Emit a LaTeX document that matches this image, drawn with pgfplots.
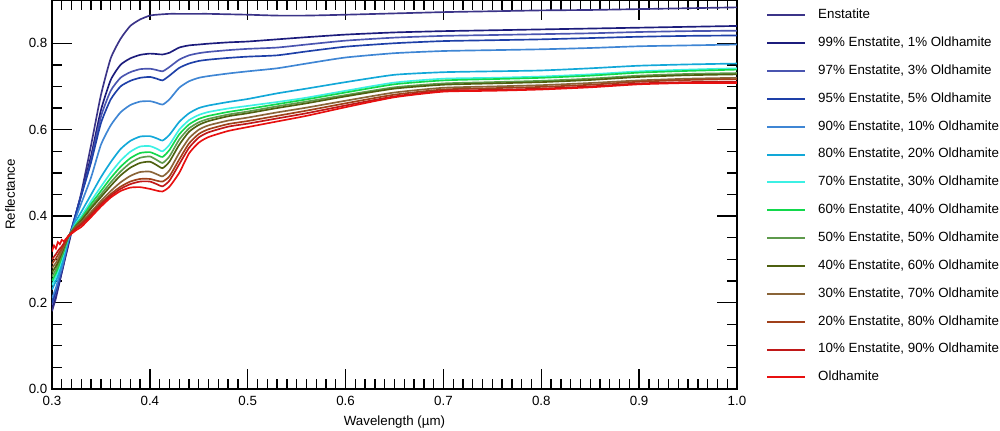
\documentclass[border=0pt]{standalone}
\usepackage{pgfplots}
\pgfplotsset{compat=1.18}
\usepackage{pgfplotstable}
\usepackage{fontspec}
\setmainfont{Liberation Sans}

% columns: wavelength, then Enstatite -> Oldhamite
\pgfplotstableread{
x     e100  e99   e97   e95   e90   e80   e70   e60   e50   e40   e30   e20   e10   e0
0.300 0.180 0.190 0.195 0.200 0.210 0.230 0.240 0.250 0.260 0.270 0.280 0.290 0.300 0.318
0.302 0.195 0.204 0.209 0.214 0.222 0.240 0.250 0.259 0.268 0.277 0.286 0.296 0.306 0.332
0.304 0.210 0.218 0.223 0.228 0.234 0.250 0.260 0.268 0.276 0.284 0.292 0.302 0.312 0.325
0.306 0.230 0.234 0.239 0.244 0.250 0.262 0.272 0.279 0.286 0.293 0.300 0.310 0.319 0.340
0.308 0.250 0.252 0.257 0.262 0.266 0.276 0.286 0.292 0.298 0.304 0.310 0.318 0.325 0.335
0.310 0.270 0.270 0.275 0.280 0.280 0.290 0.300 0.305 0.310 0.315 0.320 0.325 0.330 0.345
0.312 0.289 0.290 0.294 0.299 0.299 0.306 0.314 0.318 0.322 0.326 0.330 0.333 0.337 0.342
0.317 0.335 0.340 0.345 0.348 0.345 0.350 0.352 0.353 0.354 0.354 0.354 0.354 0.355 0.354
0.325 0.410 0.410 0.410 0.410 0.400 0.390 0.385 0.382 0.380 0.378 0.376 0.374 0.372 0.368
0.330 0.455 0.450 0.450 0.448 0.430 0.410 0.400 0.395 0.392 0.390 0.386 0.383 0.380 0.375
0.340 0.565 0.540 0.530 0.525 0.490 0.450 0.435 0.428 0.422 0.418 0.410 0.406 0.402 0.398
0.350 0.680 0.645 0.630 0.615 0.565 0.490 0.468 0.458 0.450 0.444 0.435 0.430 0.426 0.422
0.360 0.765 0.715 0.690 0.670 0.610 0.525 0.500 0.488 0.478 0.470 0.458 0.451 0.447 0.443
0.370 0.810 0.750 0.720 0.700 0.640 0.555 0.528 0.514 0.503 0.494 0.478 0.468 0.463 0.458
0.380 0.840 0.765 0.733 0.713 0.657 0.574 0.549 0.534 0.523 0.512 0.493 0.480 0.474 0.466
0.390 0.855 0.773 0.740 0.720 0.665 0.584 0.561 0.546 0.535 0.523 0.502 0.486 0.480 0.467
0.400 0.864 0.776 0.741 0.722 0.666 0.585 0.562 0.548 0.538 0.526 0.503 0.486 0.480 0.463
0.407 0.866 0.775 0.738 0.718 0.662 0.580 0.556 0.542 0.530 0.518 0.497 0.482 0.474 0.459
0.413 0.867 0.774 0.735 0.714 0.658 0.575 0.550 0.537 0.523 0.511 0.492 0.480 0.469 0.457
0.420 0.868 0.778 0.745 0.725 0.670 0.588 0.565 0.553 0.538 0.526 0.506 0.492 0.482 0.468
0.430 0.868 0.790 0.762 0.743 0.697 0.618 0.600 0.589 0.577 0.565 0.546 0.531 0.520 0.500
0.440 0.868 0.795 0.772 0.753 0.712 0.638 0.622 0.612 0.603 0.595 0.580 0.568 0.558 0.545
0.450 0.868 0.797 0.777 0.759 0.720 0.650 0.634 0.625 0.617 0.611 0.600 0.590 0.582 0.570
0.460 0.868 0.799 0.780 0.762 0.724 0.656 0.641 0.632 0.625 0.620 0.610 0.601 0.594 0.583
0.480 0.867 0.802 0.784 0.766 0.730 0.664 0.649 0.641 0.635 0.631 0.621 0.613 0.607 0.597
0.500 0.866 0.804 0.787 0.769 0.735 0.671 0.655 0.648 0.642 0.638 0.628 0.620 0.614 0.606
0.530 0.864 0.809 0.790 0.772 0.742 0.684 0.664 0.659 0.654 0.650 0.640 0.632 0.626 0.619
0.560 0.864 0.814 0.797 0.781 0.753 0.695 0.674 0.670 0.665 0.661 0.651 0.644 0.638 0.632
0.600 0.866 0.820 0.806 0.792 0.767 0.710 0.690 0.686 0.680 0.677 0.667 0.661 0.656 0.652
0.650 0.869 0.825 0.813 0.800 0.777 0.727 0.709 0.705 0.698 0.695 0.686 0.681 0.677 0.675
0.700 0.872 0.828 0.817 0.805 0.782 0.733 0.718 0.714 0.707 0.704 0.697 0.693 0.690 0.688
0.750 0.874 0.830 0.819 0.807 0.784 0.735 0.720 0.717 0.710 0.707 0.700 0.696 0.692 0.690
0.800 0.876 0.832 0.821 0.809 0.786 0.737 0.723 0.720 0.713 0.710 0.703 0.699 0.695 0.693
0.850 0.877 0.834 0.823 0.812 0.789 0.742 0.728 0.725 0.718 0.715 0.708 0.704 0.700 0.698
0.900 0.879 0.836 0.826 0.815 0.793 0.748 0.735 0.732 0.725 0.722 0.714 0.711 0.707 0.705
0.950 0.881 0.838 0.828 0.817 0.795 0.751 0.739 0.736 0.729 0.726 0.718 0.715 0.710 0.708
1.000 0.883 0.840 0.829 0.818 0.797 0.753 0.742 0.739 0.731 0.728 0.720 0.717 0.711 0.708
}\spectra

\definecolor{cE100}{HTML}{3B3488}
\definecolor{cE99}{HTML}{1C1C7C}
\definecolor{cE97}{HTML}{4A55B0}
\definecolor{cE95}{HTML}{1E40A8}
\definecolor{cE90}{HTML}{3F86D4}
\definecolor{cE80}{HTML}{12A8D8}
\definecolor{cE70}{HTML}{3CF0E4}
\definecolor{cE60}{HTML}{12D84C}
\definecolor{cE50}{HTML}{5E9A4C}
\definecolor{cE40}{HTML}{4E6010}
\definecolor{cE30}{HTML}{8A6438}
\definecolor{cE20}{HTML}{A0401A}
\definecolor{cE10}{HTML}{C01818}
\definecolor{cE0}{HTML}{E81010}

\begin{document}
\begin{tikzpicture}
  \begin{axis}[
    scale only axis,
    width=513.75pt, height=291.75pt,
    xmin=0.3, xmax=1.0, ymin=0, ymax=0.9,
    xtick={0.3,0.4,...,1.01}, minor x tick num=9,
    ytick={0,0.2,...,0.81}, minor y tick num=3,
    major tick length=15pt, minor tick length=7.5pt,
    every tick/.style={black, line width=1pt},
    axis line style={line width=1pt},
    font=\fontsize{10}{12}\selectfont,
    tick label style={font=\fontsize{10}{12}\selectfont},
    /pgf/number format/assume math mode=true,
    xticklabel style={yshift=-2pt, /pgf/number format/.cd, fixed, fixed zerofill, precision=1},
    yticklabel style={/pgf/number format/.cd, fixed, fixed zerofill, precision=1},
    xlabel={Wavelength (µm)}, ylabel={Reflectance},
    xlabel style={yshift=-1pt}, ylabel style={yshift=3.5pt},
    every axis plot/.append style={line width=1.25pt, smooth, tension=0.35},
    legend cell align=left,
    legend image code/.code={\draw[#1, line width=1.5pt, sharp plot] (0pt,0pt) -- (28.5pt,0pt);},
    legend style={draw=none, fill=none, at={(rel axis cs:1.0423,0.977)}, anchor=north west,
      inner sep=0pt, row sep=11.9pt,
      nodes={inner sep=0pt, text height=7pt, text depth=2pt},
      font=\fontsize{10}{12}\selectfont},
    legend columns=1,
  ]
    \addplot[cE100] table[x=x, y=e100] {\spectra};
    \addlegendentry{\hspace{9pt}Enstatite}
    \addplot[cE99] table[x=x, y=e99] {\spectra};
    \addlegendentry{\hspace{9pt}99\% Enstatite, 1\% Oldhamite}
    \addplot[cE97] table[x=x, y=e97] {\spectra};
    \addlegendentry{\hspace{9pt}97\% Enstatite, 3\% Oldhamite}
    \addplot[cE95] table[x=x, y=e95] {\spectra};
    \addlegendentry{\hspace{9pt}95\% Enstatite, 5\% Oldhamite}
    \addplot[cE90] table[x=x, y=e90] {\spectra};
    \addlegendentry{\hspace{9pt}90\% Enstatite, 10\% Oldhamite}
    \addplot[cE80] table[x=x, y=e80] {\spectra};
    \addlegendentry{\hspace{9pt}80\% Enstatite, 20\% Oldhamite}
    \addplot[cE70] table[x=x, y=e70] {\spectra};
    \addlegendentry{\hspace{9pt}70\% Enstatite, 30\% Oldhamite}
    \addplot[cE60] table[x=x, y=e60] {\spectra};
    \addlegendentry{\hspace{9pt}60\% Enstatite, 40\% Oldhamite}
    \addplot[cE50] table[x=x, y=e50] {\spectra};
    \addlegendentry{\hspace{9pt}50\% Enstatite, 50\% Oldhamite}
    \addplot[cE40] table[x=x, y=e40] {\spectra};
    \addlegendentry{\hspace{9pt}40\% Enstatite, 60\% Oldhamite}
    \addplot[cE30] table[x=x, y=e30] {\spectra};
    \addlegendentry{\hspace{9pt}30\% Enstatite, 70\% Oldhamite}
    \addplot[cE20] table[x=x, y=e20] {\spectra};
    \addlegendentry{\hspace{9pt}20\% Enstatite, 80\% Oldhamite}
    \addplot[cE10] table[x=x, y=e10] {\spectra};
    \addlegendentry{\hspace{9pt}10\% Enstatite, 90\% Oldhamite}
    \addplot[cE0] table[x=x, y=e0] {\spectra};
    \addlegendentry{\hspace{9pt}Oldhamite}
    \coordinate (ll) at (rel axis cs:0,0);
  \end{axis}
  \pgfresetboundingbox
  \path ([shift={(-39pt,-30.75pt)}]ll) rectangle ++(750pt,322.5pt);
\end{tikzpicture}
\end{document}
